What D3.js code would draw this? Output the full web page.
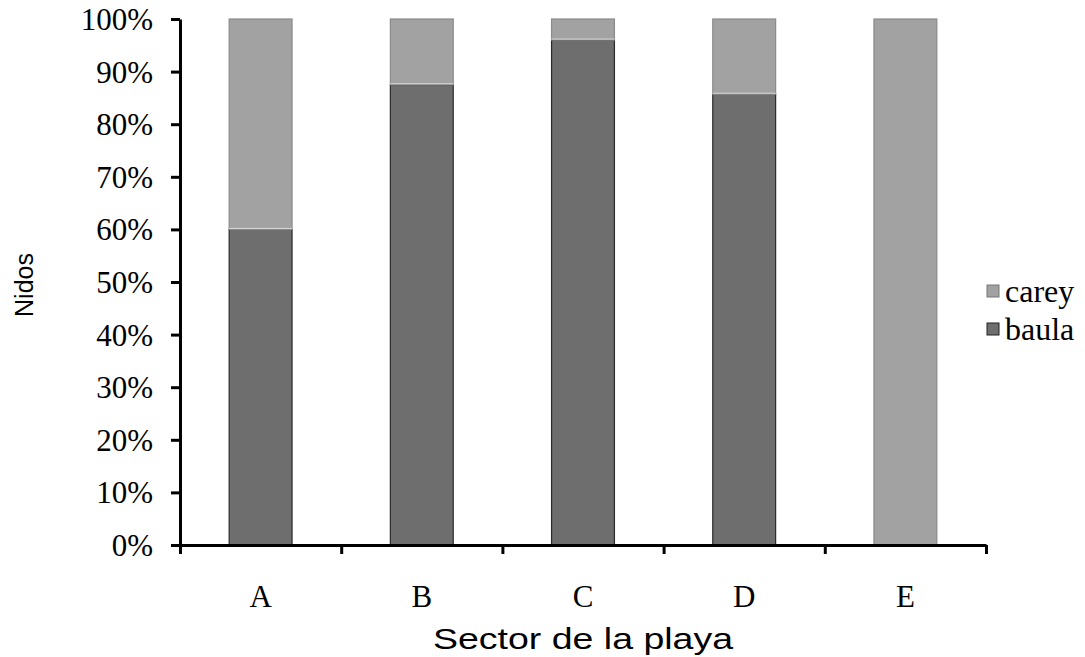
<!DOCTYPE html>
<html>
<head>
<meta charset="utf-8">
<script src="https://cdn.jsdelivr.net/npm/d3@7"></script>
<style>
  html, body { margin: 0; padding: 0; background: #fff; }
  svg { display: block; }
</style>
</head>
<body>
<svg id="chart" width="1085" height="657"></svg>
<script>
// Nest share per beach sector (percent), stacked: baula at bottom, carey on top
const sectors = ["A", "B", "C", "D", "E"];
const baula = [60, 87.5, 96, 85.7, 0];
const carey = [40, 12.5, 4, 14.3, 100];
const seriesNames = ["baula", "carey"];
const yTicks = [0, 10, 20, 30, 40, 50, 60, 70, 80, 90, 100];

const colors = { baula: "#6e6e6e", carey: "#a2a2a2" };
const strokes = { baula: "#2a2a2a", carey: "#8a8a8a" };

const serif = "'Liberation Serif', 'Times New Roman', serif";
const sans = "'Liberation Sans', Arial, Helvetica, sans-serif";

const svg = d3.select("#chart");
const margin = { left: 180, right: 99, top: 19, bottom: 112 };
const W = 1085, H = 657;

const x = d3.scaleBand().domain(sectors).range([margin.left, W - margin.right]).paddingInner(0.61).paddingOuter(0.305);
const xAxisScale = d3.scalePoint().domain(d3.range(sectors.length + 1)).range([margin.left, W - margin.right]);
const y = d3.scaleLinear().domain([0, 100]).range([H - margin.bottom, margin.top]);

const rows = sectors.map((s, i) => ({ sector: s, baula: baula[i], carey: carey[i] }));
const stack = d3.stack().keys(seriesNames)(rows);

const layers = svg.append("g").selectAll("g").data(stack).join("g")
  .attr("fill", d => colors[d.key])
  .attr("stroke", d => strokes[d.key])
  .attr("stroke-width", 1.2);

layers.selectAll("rect").data(d => d.filter(p => p[1] - p[0] > 0)).join("rect")
  .attr("x", d => x(d.data.sector))
  .attr("width", x.bandwidth())
  .attr("y", d => y(d[1]))
  .attr("height", d => y(d[0]) - y(d[1]));

// thin light separator between stacked segments
svg.append("g").selectAll("line")
  .data(rows.filter(r => r.baula > 0 && r.carey > 0))
  .join("line")
  .attr("x1", d => x(d.sector)).attr("x2", d => x(d.sector) + x.bandwidth())
  .attr("y1", d => y(d.baula) - 1).attr("y2", d => y(d.baula) - 1)
  .attr("stroke", "#d8d8d8").attr("stroke-width", 1);

// y axis
const yAxis = svg.append("g").attr("transform", `translate(${margin.left},0)`)
  .call(d3.axisLeft(y).tickValues(yTicks).tickFormat(d => d + "%").tickSize(9).tickSizeOuter(0));
yAxis.select(".domain").attr("stroke", "#000").attr("stroke-width", 3);
yAxis.selectAll(".tick line").attr("stroke", "#000").attr("stroke-width", 3);
yAxis.selectAll(".tick text")
  .attr("x", -27)
  .attr("dy", "0.34em")
  .attr("font-family", serif)
  .attr("font-size", 31).attr("fill", "#000");

// x axis with ticks between categories
const xAxis = svg.append("g").attr("transform", `translate(0,${H - margin.bottom})`)
  .call(d3.axisBottom(xAxisScale).tickFormat("").tickSize(9).tickSizeOuter(0));
xAxis.select(".domain").attr("stroke", "#000").attr("stroke-width", 3);
xAxis.selectAll(".tick line").attr("stroke", "#000").attr("stroke-width", 3);

svg.append("g").selectAll("text").data(sectors).join("text")
  .attr("x", d => x(d) + x.bandwidth() / 2)
  .attr("y", 607)
  .attr("text-anchor", "middle")
  .attr("font-family", serif)
  .attr("font-size", 31)
  .text(d => d);

// axis titles
svg.append("text")
  .attr("x", 583).attr("y", 649)
  .attr("text-anchor", "middle")
  .attr("font-family", sans)
  .attr("font-size", 30)
  .attr("textLength", 300)
  .attr("lengthAdjust", "spacingAndGlyphs")
  .text("Sector de la playa");

svg.append("text")
  .attr("transform", "translate(33,285) rotate(-90)")
  .attr("text-anchor", "middle")
  .attr("font-family", sans)
  .attr("font-size", 25)
  .text("Nidos");

// legend (carey above baula)
const legendItems = ["carey", "baula"];
const legend = svg.append("g").selectAll("g").data(legendItems).join("g")
  .attr("transform", (d, i) => `translate(987,${285 + i * 38})`);
legend.append("rect").attr("width", 12).attr("height", 12)
  .attr("fill", d => colors[d]).attr("stroke", d => d === "baula" ? "#222" : "#777").attr("stroke-width", 1);
legend.append("text").attr("x", 18).attr("y", 17)
  .attr("font-family", serif)
  .attr("font-size", 32)
  .text(d => d);
</script>
</body>
</html>
